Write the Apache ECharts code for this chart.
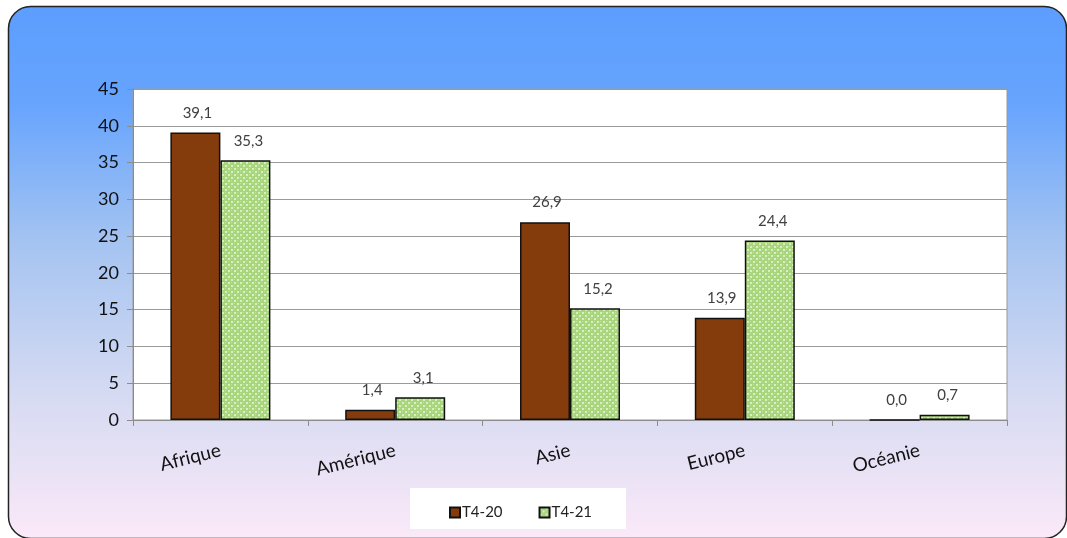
<!DOCTYPE html>
<html><head><meta charset="utf-8">
<script src="https://cdn.jsdelivr.net/npm/echarts@6/dist/echarts.min.js"></script>
<style>html,body{margin:0;padding:0;background:#fff;}#c{width:1067px;height:538px;}</style>
</head><body><div id="c"></div>
<script>
const categories = ['Afrique', 'Amérique', 'Asie', 'Europe', 'Océanie'];
const seriesNames = ['T4-20', 'T4-21'];
const valuesT420 = [39.1, 1.4, 26.9, 13.9, 0.0];
const valuesT421 = [35.3, 3.1, 15.2, 24.4, 0.7];
const yTicks = { min: 0, max: 45, interval: 5 };

function makePattern() {
  const c = document.createElement('canvas');
  c.width = 6; c.height = 6;
  const g = c.getContext('2d');
  g.fillStyle = '#a8d57c';
  g.fillRect(0, 0, 6, 6);
  g.fillStyle = '#d8efc4';
  g.fillRect(0, 0, 2, 2);
  g.fillRect(3, 3, 2, 2);
  g.fillStyle = '#c2e4a2';
  g.fillRect(3, 0, 1, 1);
  g.fillRect(0, 3, 1, 1);
  return c;
}
const greenPattern = { image: makePattern(), repeat: 'repeat' };
const font = 'Lato, "Open Sans", sans-serif';
const fmt = p => p.value.toFixed(1).replace('.', ',');

const chart = echarts.init(document.getElementById('c'), null, { renderer: 'canvas' });
chart.setOption({
  animation: false,
  textStyle: { fontFamily: font },
  graphic: [
    {
      type: 'rect', z: -10,
      shape: { x: 8.5, y: 6.5, width: 1058, height: 532, r: 22 },
      style: {
        fill: new echarts.graphic.LinearGradient(0, 0, 0, 1, [
          { offset: 0, color: '#5c9dfe' },
          { offset: 0.18, color: '#66a4fd' },
          { offset: 0.45, color: '#a6c4f1' },
          { offset: 0.72, color: '#d4daf2' },
          { offset: 1, color: '#fbe9f8' }
        ]),
        stroke: '#222', lineWidth: 1.5
      }
    },
    {
      type: 'rect', z: -5,
      shape: { x: 410, y: 488, width: 216, height: 41 },
      style: { fill: '#ffffff' }
    }
  ],
  legend: {
    data: seriesNames,
    left: 444, top: 500,
    itemWidth: 10, itemHeight: 10, itemGap: 36,
    icon: 'rect',
    textStyle: { fontSize: 15, color: '#222', fontFamily: font, padding: [0, 0, 0, -3] }
  },
  grid: {
    left: 133, top: 89, width: 874, height: 331,
    show: true, backgroundColor: '#ffffff', borderColor: '#9a9a9a', borderWidth: 1
  },
  xAxis: {
    type: 'category', data: categories,
    axisLine: { lineStyle: { color: '#8c8c8c', width: 1 } },
    axisTick: { show: true, length: 6, interval: 0, lineStyle: { color: '#8c8c8c' } },
    axisLabel: { rotate: 14, fontSize: 19, color: '#111', margin: 30, fontFamily: font }
  },
  yAxis: {
    type: 'value', min: yTicks.min, max: yTicks.max, interval: yTicks.interval,
    axisLine: { show: true, lineStyle: { color: '#8c8c8c' } },
    axisTick: { show: true, length: 6, lineStyle: { color: '#8c8c8c' } },
    splitLine: { lineStyle: { color: '#9a9a9a', width: 1 } },
    axisLabel: { fontSize: 18, color: '#111', margin: 14, fontFamily: font }
  },
  series: [
    {
      name: seriesNames[0], type: 'bar', data: valuesT420,
      barWidth: 50, barGap: '0%',
      itemStyle: { color: '#843c0c', borderColor: '#111', borderWidth: 1.5 },
      label: { show: true, position: 'top', distance: 12, offset: [2, 0], formatter: fmt, fontSize: 15, color: '#404040', fontFamily: font }
    },
    {
      name: seriesNames[1], type: 'bar', data: valuesT421,
      barWidth: 50, barGap: '0%',
      itemStyle: { color: greenPattern, borderColor: '#111', borderWidth: 1.5 },
      label: { show: true, position: 'top', distance: 12, offset: [3, 0], formatter: fmt, fontSize: 15, color: '#404040', fontFamily: font }
    }
  ]
});
</script></body></html>
